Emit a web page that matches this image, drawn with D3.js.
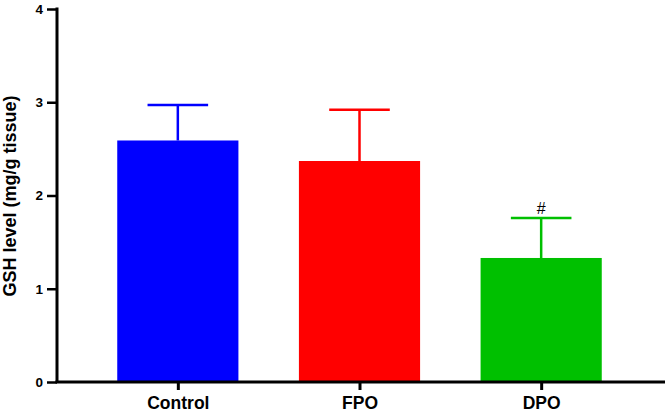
<!DOCTYPE html>
<html>
<head>
<meta charset="utf-8">
<script src="https://cdn.jsdelivr.net/npm/d3@7"></script>
<style>
  body { margin: 0; background: #fff; }
  svg { display: block; }
</style>
</head>
<body>
<div id="target"></div>
<script>
const groups = ["Control", "FPO", "DPO"]
const means = [2.59, 2.37, 1.33]
const errUp = [2.97, 2.92, 1.76]
const colors = ["#0000ff", "#ff0000", "#00c000"]
const marks = ["", "", "#"]
const yTicks = [0, 1, 2, 3, 4]

const width = 665, height = 413
const font = "'Liberation Sans', Arial, sans-serif"

const svg = d3.select("#target").append("svg")
    .attr("width", width)
    .attr("height", height)

const x = d3.scalePoint()
    .domain(groups)
    .range([87, 632])
    .padding(0.5)

const y = d3.scaleLinear()
    .domain([0, 4])
    .range([382, 9])

const barW = x.step() * 0.667
const capW = barW / 2

//Bars
svg.append("g")
    .selectAll("rect")
    .data(groups)
    .enter()
    .append("rect")
    .attr("x", d => x(d) - barW / 2)
    .attr("width", barW)
    .attr("y", (d, i) => y(means[i]))
    .attr("height", (d, i) => y(0) - y(means[i]))
    .attr("fill", (d, i) => colors[i])

//Error bars
const err = svg.append("g")
    .selectAll("g")
    .data(groups)
    .enter()
    .append("g")
    .attr("stroke", (d, i) => colors[i])
    .attr("stroke-width", 2.5)

err.append("line")
    .attr("x1", d => x(d))
    .attr("x2", d => x(d))
    .attr("y1", (d, i) => y(means[i]))
    .attr("y2", (d, i) => y(errUp[i]))

err.append("line")
    .attr("x1", d => x(d) - capW / 2)
    .attr("x2", d => x(d) + capW / 2)
    .attr("y1", (d, i) => y(errUp[i]))
    .attr("y2", (d, i) => y(errUp[i]))

//Significance marks
svg.append("g")
    .selectAll("text")
    .data(groups)
    .enter()
    .append("text")
    .attr("x", d => x(d))
    .attr("y", (d, i) => y(errUp[i]) - 4)
    .attr("text-anchor", "middle")
    .attr("font-family", font)
    .attr("font-size", 16)
    .attr("fill", "#000")
    .text((d, i) => marks[i])

//Y axis
const yAxis = svg.append("g")
    .attr("transform", "translate(57,0)")
    .call(d3.axisLeft(y).tickValues(yTicks).tickFormat(d3.format("d")).tickSize(10).tickPadding(4))
yAxis.select(".domain").attr("stroke-width", 3).attr("d", "M0," + (y(4) - 1.5) + "V" + y(0))
yAxis.selectAll(".tick line").attr("stroke-width", 2.5)
yAxis.selectAll(".tick text")
    .attr("font-family", font)
    .attr("font-size", 13.5)
    .attr("font-weight", "bold")
    .attr("fill", "#000")

//X axis
const xAxis = svg.append("g")
    .attr("transform", "translate(0," + y(0) + ")")
    .call(d3.axisBottom(x).tickSize(8).tickPadding(7))
xAxis.select(".domain").attr("stroke-width", 3).attr("d", "M55.5,0H665")
xAxis.selectAll(".tick line").attr("stroke-width", 3)
xAxis.selectAll(".tick text")
    .attr("font-family", font)
    .attr("font-size", 17.5)
    .attr("font-weight", "bold")
    .attr("fill", "#000")

//Y label
svg.append("text")
    .attr("transform", "translate(16,196) rotate(-90)")
    .attr("text-anchor", "middle")
    .attr("font-family", font)
    .attr("font-size", 18)
    .attr("font-weight", "bold")
    .attr("fill", "#000")
    .text("GSH level (mg/g tissue)")
</script>
</body>
</html>
